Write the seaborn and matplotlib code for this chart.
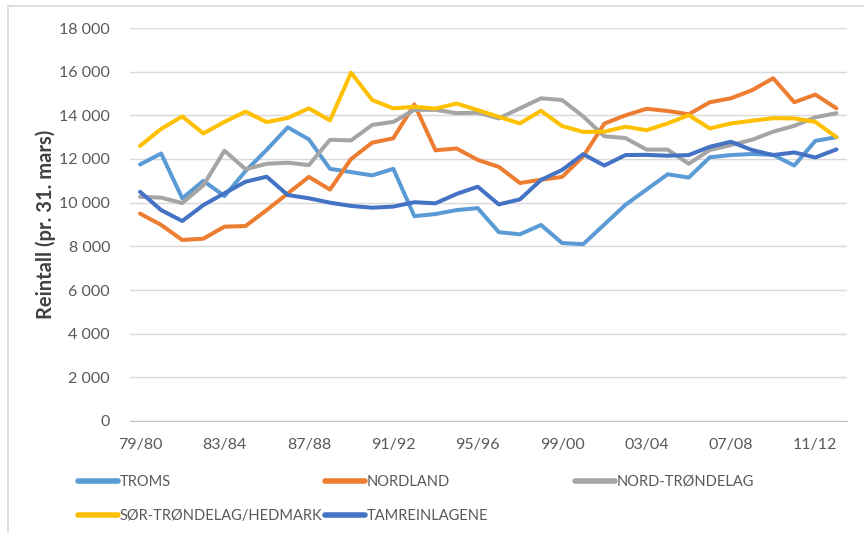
import numpy as np
import pandas as pd
import seaborn as sns
import matplotlib.pyplot as plt
from matplotlib.lines import Line2D
from matplotlib.patches import Rectangle

# sesonger 79/80 .. 12/13
seasons = [f"{y % 100:02d}/{(y + 1) % 100:02d}" for y in range(1979, 2013)]
tick_labels = ["79/80", "83/84", "87/88", "91/92", "95/96", "99/00", "03/04", "07/08", "11/12"]

troms = [11750, 12250, 10200, 11000, 10300, 11450, 12420, 13450, 12900, 11550,
         11400, 11250, 11550, 9380, 9480, 9660, 9750, 8650, 8550, 8980,
         8150, 8100, 9000, 9900, 10600, 11300, 11150, 12080, 12180, 12230,
         12190, 11700, 12830, 13000]
nordland = [9500, 8980, 8290, 8350, 8900, 8930, 9660, 10420, 11180, 10600,
            12000, 12750, 12950, 14500, 12400, 12480, 11960, 11640, 10900, 11050,
            11180, 12120, 13620, 14000, 14300, 14200, 14050, 14600, 14780, 15150,
            15700, 14600, 14950, 14320]
nord_trondelag = [10270, 10230, 9980, 10800, 12380, 11530, 11780, 11830, 11720, 12880,
                  12850, 13560, 13700, 14250, 14250, 14100, 14120, 13860, 14320, 14780,
                  14700, 13950, 13040, 12960, 12430, 12430, 11780, 12410, 12640, 12880,
                  13250, 13520, 13910, 14100]
sor_trondelag = [12600, 13380, 13950, 13170, 13700, 14170, 13690, 13880, 14320, 13770,
                 15950, 14700, 14320, 14390, 14310, 14540, 14240, 13930, 13630, 14210,
                 13510, 13240, 13250, 13480, 13320, 13630, 14010, 13400, 13630, 13750,
                 13870, 13860, 13700, 13000]
tamrein = [10500, 9660, 9160, 9890, 10430, 10960, 11190, 10350, 10200, 10000,
           9850, 9770, 9820, 10020, 9970, 10400, 10730, 9920, 10150, 11040,
           11500, 12220, 11700, 12180, 12190, 12150, 12180, 12560, 12790, 12410,
           12180, 12300, 12070, 12440]

names = ["TROMS", "NORDLAND", "NORD-TRØNDELAG", "SØR-TRØNDELAG/HEDMARK", "TAMREINLAGENE"]
colors = ["#5B9BD5", "#ED7D31", "#A5A5A5", "#FFC000", "#4472C4"]

df = pd.DataFrame({
    "x": list(range(len(seasons))) * 5,
    "Reintall": troms + nordland + nord_trondelag + sor_trondelag + tamrein,
    "Fylke": np.repeat(names, len(seasons)),
})

sns.set_style("white")
plt.rcParams["font.family"] = ["Lato", "DejaVu Sans"]

fig = plt.figure(figsize=(8.64, 5.33), dpi=100)
ax = fig.add_axes([129.5 / 864, 1 - 421 / 533, (847 - 129.5) / 864, (421 - 28) / 533])

# ramme rundt diagrammet
fig.patches.append(Rectangle((8 / 864, -0.1), 1.2, 1 - 6 / 533 + 0.1, transform=fig.transFigure,
                             fill=False, edgecolor="#D9D9D9", linewidth=1.2))

sns.lineplot(data=df, x="x", y="Reintall", hue="Fylke", hue_order=names,
             palette=dict(zip(names, colors)), linewidth=2.9, legend=False, ax=ax)

ax.set_xlim(-0.5, len(seasons) - 0.5)
ax.set_ylim(0, 18000)
ax.set_yticks(range(0, 18001, 2000))
ax.set_yticklabels([f"{v:,}".replace(",", " ") for v in range(0, 18001, 2000)])
ax.set_xticks(range(0, len(seasons), 4))
ax.set_xticklabels(tick_labels)
ax.set_xticks(np.arange(-0.5, len(seasons), 1), minor=True)
ax.tick_params(axis="x", which="major", length=0, pad=12, labelsize=11.5, labelcolor="#595959")
ax.tick_params(axis="x", which="minor", length=5, color="#BFBFBF", width=1, direction="out")
ax.tick_params(axis="y", length=0, pad=14, labelsize=11.5, labelcolor="#595959")

ax.grid(axis="y", color="#D9D9D9", linewidth=1)
for s in ["top", "right", "left"]:
    ax.spines[s].set_visible(False)
ax.spines["bottom"].set_color("#BFBFBF")
ax.spines["bottom"].set_zorder(0.5)
ax.set_axisbelow(True)

ax.set_xlabel("")
ax.set_ylabel("Reintall (pr. 31. mars)", fontsize=14.5, fontweight="bold", color="#404040", labelpad=2)

# forklaring, plassert i tre kolonner
handles = {n: Line2D([], [], color=c, linewidth=4, solid_capstyle="round") for n, c in zip(names, colors)}
groups = [(["TROMS", "SØR-TRØNDELAG/HEDMARK"], 78), (["NORDLAND", "TAMREINLAGENE"], 325), (["NORD-TRØNDELAG"], 575)]
for labels, px in groups:
    fig.legend([handles[l] for l in labels], labels, loc="upper left",
               bbox_to_anchor=(px / 864, 1 - 475 / 533), frameon=False, fontsize=10.5,
               handlelength=2.75, handletextpad=0.1, labelspacing=1.35,
               borderaxespad=0, borderpad=0, labelcolor="#595959")

fig.savefig("out.png", dpi=100)
